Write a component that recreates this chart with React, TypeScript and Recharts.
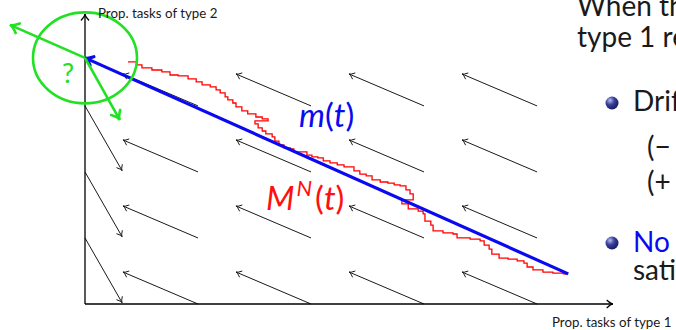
import React from "react";
import { ComposedChart, XAxis, YAxis, Line, ReferenceLine, ReferenceDot } from "recharts";

// red sample path M^N(t), corner points of the staircase
const redX = [
  0.095, 0.115, 0.126, 0.148, 0.17, 0.188, 0.206, 0.228, 0.246, 0.259, 0.277, 0.29, 0.299, 0.31, 0.316,
  0.327, 0.334, 0.347, 0.36, 0.378, 0.392, 0.405, 0.376, 0.383, 0.392, 0.4, 0.414, 0.42, 0.429, 0.44,
  0.454, 0.462, 0.478, 0.491, 0.502, 0.515, 0.527, 0.542, 0.558, 0.573, 0.586, 0.595, 0.608, 0.622,
  0.635, 0.653, 0.67, 0.684, 0.697, 0.71, 0.719, 0.726, 0.701, 0.715, 0.737, 0.748, 0.752, 0.765, 0.77,
  0.792, 0.814, 0.823, 0.852, 0.874, 0.883, 0.894, 0.9, 0.916, 0.936, 0.956, 0.971, 0.978, 0.991, 1.013,
  1.035, 1.058, 1.064,
];
const redY = [
  0.917, 0.905, 0.894, 0.886, 0.879, 0.867, 0.864, 0.852, 0.841, 0.83, 0.822, 0.811, 0.799, 0.784, 0.773,
  0.761, 0.746, 0.731, 0.72, 0.708, 0.701, 0.693, 0.682, 0.667, 0.655, 0.644, 0.633, 0.617, 0.602, 0.591,
  0.587, 0.576, 0.576, 0.564, 0.557, 0.553, 0.542, 0.534, 0.527, 0.519, 0.519, 0.504, 0.492, 0.485,
  0.47, 0.462, 0.458, 0.451, 0.447, 0.432, 0.417, 0.394, 0.379, 0.36, 0.352, 0.341, 0.314, 0.299, 0.277,
  0.269, 0.265, 0.25, 0.246, 0.239, 0.223, 0.208, 0.189, 0.174, 0.17, 0.163, 0.155, 0.14, 0.129, 0.121,
  0.117, 0.114, 0.11,
];

// fluid limit m(t): start and end
const blueStart = { x: 0, y: 0.932 };
const blueEnd = { x: 1.069, y: 0.114 };

// drift field: arrow tails on a grid, one drift inside, another on the left border
const fieldTailX = [0.25, 0.5, 0.75, 1.0];
const fieldTailY = [0, 0.25, 0.5, 0.75];
const innerDrift = { dx: -0.166, dy: 0.121 };
const borderTailY = [0.25, 0.5, 0.75];
const borderDrift = { dx: 0.082, dy: -0.245 };

// the two candidate drifts at the corner point
const greenTips = [
  { x: -0.166, y: 1.057 },
  { x: 0.077, y: 0.697 },
];

const X_MAX = 1.168;
const Y_MAX = 1.098;

const redData = redX.map((x, i) => ({ x, y: redY[i] }));

const arrow = (color: string, width: number, head: number) => (p: any) => {
  const { x1, y1, x2, y2 } = p;
  const a = Math.atan2(y2 - y1, x2 - x1);
  const s = 0.55;
  const ax = x2 - head * Math.cos(a - s);
  const ay = y2 - head * Math.sin(a - s);
  const bx = x2 - head * Math.cos(a + s);
  const by = y2 - head * Math.sin(a + s);
  const qx = x2 - head * 0.3 * Math.cos(a);
  const qy = y2 - head * 0.3 * Math.sin(a);
  return (
    <g>
      <line x1={x1} y1={y1} x2={x2} y2={y2} stroke={color} strokeWidth={width} />
      <path
        d={`M${ax},${ay} Q${qx},${qy} ${x2},${y2} Q${qx},${qy} ${bx},${by}`}
        fill="none"
        stroke={color}
        strokeWidth={width}
        strokeLinecap="round"
      />
    </g>
  );
};

const font = "Lato, 'Open Sans', sans-serif";

const Ball = ({ cx, cy }: { cx: number; cy: number }) => (
  <circle cx={cx} cy={cy} r={6.5} fill="url(#ballGrad)" />
);

export default function App() {
  return (
    <div
      style={{
        position: "absolute",
        left: 0,
        top: 0,
        width: 676,
        height: 330,
        overflow: "hidden",
        background: "#fff",
      }}
    >
      <ComposedChart width={676} height={330} margin={{ top: 14, right: 63, bottom: 26, left: 85 }}>
        <XAxis type="number" dataKey="x" domain={[0, X_MAX]} allowDataOverflow hide />
        <YAxis type="number" dataKey="y" domain={[0, Y_MAX]} allowDataOverflow hide />

        {fieldTailY.map((ty) =>
          fieldTailX.map((tx) => (
            <ReferenceLine
              key={`f-${tx}-${ty}`}
              segment={[
                { x: tx, y: ty },
                { x: tx + innerDrift.dx, y: ty + innerDrift.dy },
              ]}
              ifOverflow="visible"
              shape={arrow("#1a1a1a", 1, 6)}
            />
          ))
        )}
        {borderTailY.map((ty) => (
          <ReferenceLine
            key={`b-${ty}`}
            segment={[
              { x: 0, y: ty },
              { x: borderDrift.dx, y: ty + borderDrift.dy },
            ]}
            ifOverflow="visible"
            shape={arrow("#1a1a1a", 1, 6)}
          />
        ))}

        <ReferenceLine
          segment={[
            { x: 0, y: 0 },
            { x: X_MAX, y: 0 },
          ]}
          ifOverflow="visible"
          shape={arrow("#000", 1.3, 7)}
        />
        <ReferenceLine
          segment={[
            { x: 0, y: 0 },
            { x: 0, y: Y_MAX },
          ]}
          ifOverflow="visible"
          shape={arrow("#000", 1.3, 7)}
        />

        <Line
          data={redData}
          dataKey="y"
          type="stepAfter"
          stroke="#ff0000"
          strokeWidth={1.3}
          dot={false}
          isAnimationActive={false}
        />

        <ReferenceLine
          segment={[blueEnd, blueStart]}
          ifOverflow="visible"
          shape={arrow("#0a0af0", 3.2, 9)}
        />

        <ReferenceDot
          x={blueStart.x}
          y={blueStart.y}
          ifOverflow="visible"
          shape={(p: any) => (
            <ellipse cx={p.cx} cy={p.cy} rx={52} ry={45.5} fill="none" stroke="#22e022" strokeWidth={2.6} />
          )}
        />
        {greenTips.map((t, i) => (
          <ReferenceLine
            key={`g-${i}`}
            segment={[blueStart, t]}
            ifOverflow="visible"
            shape={arrow("#22e022", 2.6, 10)}
          />
        ))}
      </ComposedChart>

      <svg
        width={676}
        height={330}
        style={{ position: "absolute", left: 0, top: 0, pointerEvents: "none" }}
      >
        <defs>
          <radialGradient id="ballGrad" cx="0.35" cy="0.3" r="0.75">
            <stop offset="0%" stopColor="#b8bdf0" />
            <stop offset="45%" stopColor="#3a3f9a" />
            <stop offset="100%" stopColor="#14175a" />
          </radialGradient>
        </defs>
        <g fontFamily={font}>
          <text x={98} y={18} fontSize={13.3} fill="#1a1a1a">
            Prop. tasks of type 2
          </text>
          <text x={552} y={327} fontSize={13.3} fill="#1a1a1a">
            Prop. tasks of type 1
          </text>

          <text x={62} y={83} fontSize={27} fill="#22e022">
            ?
          </text>
          <text x={299} y={127} fontSize={33} fill="#0a0af0">
            <tspan fontStyle="italic">m</tspan>(<tspan fontStyle="italic">t</tspan>)
          </text>
          <text x={266} y={210} fontSize={33} fill="#ff1010">
            <tspan fontStyle="italic">M</tspan>
            <tspan fontStyle="italic" fontSize={22} dy={-14} dx={2}>
              N
            </tspan>
            <tspan dy={14} dx={3}>(</tspan>
            <tspan fontStyle="italic">t</tspan>)
          </text>

          <text x={577} y={16} fontSize={28} fill="#1a1a1a">
            When th
          </text>
          <text x={577} y={47} fontSize={28} fill="#1a1a1a">
            type 1 re
          </text>
          <Ball cx={612} cy={103} />
          <text x={633} y={111} fontSize={28} fill="#1a1a1a">
            Drif
          </text>
          <text x={647} y={157} fontSize={28} fill="#1a1a1a">
            (−
          </text>
          <text x={647} y={192} fontSize={28} fill="#1a1a1a">
            (+
          </text>
          <Ball cx={612} cy={243} />
          <text x={633} y={252} fontSize={28} fill="#0a0af0">
            No
          </text>
          <text x={633} y={280} fontSize={28} fill="#1a1a1a">
            sati
          </text>
        </g>
      </svg>
    </div>
  );
}
